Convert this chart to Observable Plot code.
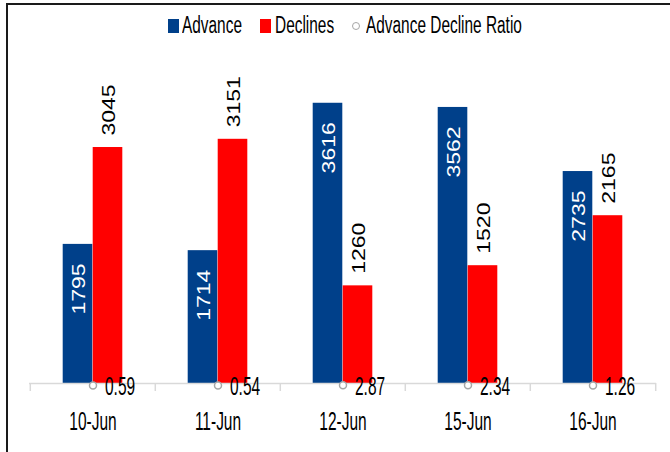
<!DOCTYPE html>
<html>
<head>
<meta charset="utf-8">
<script src="https://cdn.jsdelivr.net/npm/d3@7"></script>
<script src="https://cdn.jsdelivr.net/npm/@observablehq/plot@0.6"></script>
<style>
  html, body { margin: 0; padding: 0; background: #fff; overflow: hidden; width: 670px; height: 452px; }
  #frame { position: absolute; left: 6px; top: 3px; width: 720px; height: 447px;
    border-left: 2px solid #1a1a1a; border-top: 2px solid #1a1a1a; border-bottom: 1px solid #808080; pointer-events: none; }
  #legend { position: relative; height: 45px; font-family: "Liberation Sans", Arial, sans-serif; font-size: 23px; color: #000; }
  .sw { position: absolute; top: 19px; width: 11px; height: 14px; }
  .circ { position: absolute; left: 352px; top: 22px; width: 6px; height: 6px; border: 1.5px solid #a6a6a6; border-radius: 50%; background: #fff; }
  .lt { position: absolute; top: 11px; line-height: 28px; white-space: nowrap; transform: scaleX(0.67); transform-origin: left center; }
  #chart { position: relative; }
</style>
</head>
<body>
<div id="frame"></div>
<div id="legend">
  <div class="sw" style="left:168px;background:#00408A"></div><span class="lt" style="left:182px">Advance</span>
  <div class="sw" style="left:260px;background:#FF0000"></div><span class="lt" style="left:275px">Declines</span>
  <div class="circ"></div><span class="lt" style="left:366px">Advance Decline Ratio</span>
</div>
<div id="chart"></div>
<script>
const dates = ["10-Jun", "11-Jun", "12-Jun", "15-Jun", "16-Jun"];
const advance = [1795, 1714, 3616, 3562, 2735];
const declines = [3045, 3151, 1260, 1520, 2165];
const ratio = [0.59, 0.54, 2.87, 2.34, 1.26];

const blue = "#00408A";
const red = "#FF0000";
const font = "'Liberation Sans', Arial, sans-serif";

const advData = dates.map((d, i) => ({date: d, value: advance[i]}));
const decData = dates.map((d, i) => ({date: d, value: declines[i]}));
const ratioData = dates.map((d, i) => ({date: d, value: ratio[i]}));

const W = 670, ML = 29, MR = 14;
const bw = (W - ML - MR) / dates.length;
const barW = 30;

const chart = Plot.plot({
  width: W,
  height: 407,
  marginLeft: ML,
  marginRight: MR,
  marginTop: 28,
  marginBottom: 69,
  style: {fontFamily: font},
  x: {domain: dates, padding: 0, label: null},
  y: {domain: [0, 4000], axis: null},
  marks: [
    Plot.barY(advData, {x: "date", y: "value", fill: blue, insetLeft: bw / 2 - barW, insetRight: bw / 2}),
    Plot.barY(decData, {x: "date", y: "value", fill: red, insetLeft: bw / 2, insetRight: bw / 2 - barW}),
    Plot.ruleY([0], {stroke: "#d9d9d9", strokeWidth: 1.5}),
    Plot.axisX({tickSize: 8, tickFormat: () => "", dx: -bw / 2, stroke: "#d9d9d9", strokeWidth: 1.5}),
    Plot.axisX([dates[dates.length - 1]], {tickSize: 8, tickFormat: () => "", dx: bw / 2, stroke: "#d9d9d9", strokeWidth: 1.5}),
    Plot.axisX({tickSize: 0, tickPadding: 29, fontSize: 25, fontFamily: font, fill: "#000", className: "sqx"}),
    Plot.text(advData, {x: "date", y: "value", text: d => String(d.value), rotate: -90, textAnchor: "end",
      dx: -barW / 2, dy: 19, fill: "white", fontSize: 23, fontFamily: font, className: "sqr"}),
    Plot.text(decData, {x: "date", y: "value", text: d => String(d.value), rotate: -90, textAnchor: "start",
      dx: barW / 2, dy: -12, fill: "#000", fontSize: 23, fontFamily: font, className: "sqr"}),
    Plot.dot(ratioData, {x: "date", y: "value", r: 3.5, stroke: "#a6a6a6", fill: "white", strokeWidth: 1.5, dy: 2}),
    Plot.text(ratioData, {x: "date", y: "value", text: d => d.value.toFixed(2), textAnchor: "start",
      dx: 12, dy: 4, fontSize: 25, fontFamily: font, fill: "#000", className: "sqx"})
  ]
});

// emulate the reference's horizontally squeezed lettering
function squeeze(selector, scale, fs) {
  const px = v => {
    if (v === null) return 0;
    const n = parseFloat(v);
    if (isNaN(n)) return 0;
    return /em$/.test(v) ? n * fs : n;
  };
  d3.select(chart).selectAll(selector).each(function () {
    let t = this.getAttribute("transform") || "";
    const x = this.getAttribute("x"), y = this.getAttribute("y");
    if (x !== null || y !== null) {
      t += ` translate(${px(x)},${px(y)})`;
      this.removeAttribute("x");
      this.removeAttribute("y");
    }
    this.setAttribute("transform", (t + " " + scale).trim());
  });
}
squeeze(".sqx text", "scale(0.62,1)", 25);
squeeze(".sqr text", "scale(1,0.78)", 23);

document.getElementById("chart").appendChild(chart);
</script>
</body>
</html>
